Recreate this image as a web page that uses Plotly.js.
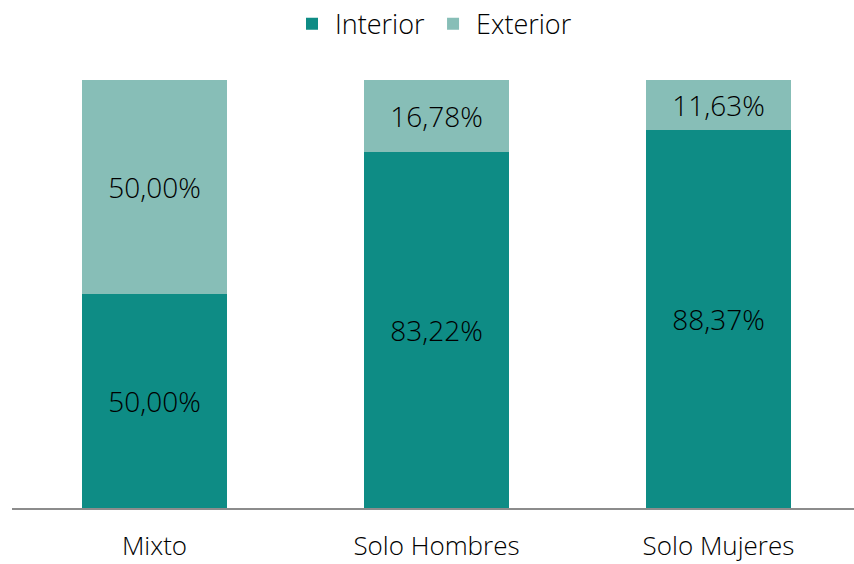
<!DOCTYPE html>
<html><head><meta charset="utf-8">
<script src="https://cdn.plot.ly/plotly-3.0.1.min.js"></script>
<style>html,body{margin:0;padding:0;background:#fff}</style>
</head><body>
<div id="chart" style="width:854px;height:564px"></div>
<script>
const categories = ["Mixto", "Solo Hombres", "Solo Mujeres"];
const interior = [50.00, 83.22, 88.37];
const exterior = [50.00, 16.78, 11.63];

const fontFam = "'Open Sans', 'Segoe UI', sans-serif";
const common = {
  type: 'bar', x: categories, width: 0.514,
  texttemplate: '%{y:.2f}%', textposition: 'inside', insidetextanchor: 'middle',
  textfont: {family: fontFam, size: 28, color: '#000', weight: 300},
  hoverinfo: 'skip', marker: {line: {width: 0}}
};
const data = [
  Object.assign({}, common, {name: 'Interior', y: interior, marker: {color: '#0E8C85'}}),
  Object.assign({}, common, {name: 'Exterior', y: exterior, marker: {color: '#87BEB7'}})
];
const layout = {
  width: 854, height: 564, barmode: 'stack', separators: ',.',
  margin: {l: 12, r: 0, t: 80, b: 56, autoexpand: false},
  paper_bgcolor: '#fff', plot_bgcolor: '#fff',
  font: {family: fontFam, size: 26, color: '#000', weight: 300},
  showlegend: true,
  legend: {orientation: 'h', x: 0.5, xanchor: 'center', xref: 'paper',
    yref: 'container', y: 0.957, yanchor: 'middle', itemwidth: 36,
    font: {family: fontFam, size: 27, color: '#000', weight: 300}, traceorder: 'normal'},
  xaxis: {type: 'category', range: [-0.5053, 2.4805], showgrid: false, zeroline: false,
    showline: true, linecolor: '#8c8c8c', linewidth: 1.5, ticks: '', ticklabelstandoff: 14,
    tickfont: {family: fontFam, size: 26, color: '#000', weight: 300}},
  yaxis: {range: [0, 100], visible: false, showgrid: false, zeroline: false}
};
Plotly.newPlot('chart', data, layout, {displayModeBar: false, staticPlot: true});
</script>
</body></html>
